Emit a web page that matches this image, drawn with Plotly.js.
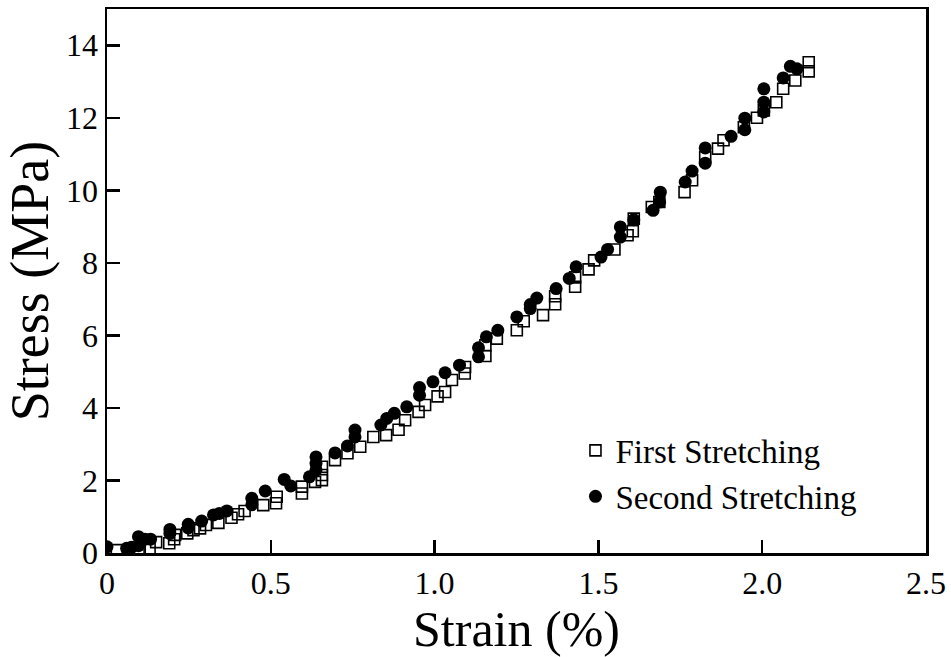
<!DOCTYPE html>
<html>
<head>
<meta charset="utf-8">
<script src="https://cdn.plot.ly/plotly-3.0.1.min.js"></script>
<style>html,body{margin:0;padding:0;background:#fff;}#chart{width:951px;height:657px;}</style>
</head>
<body>
<div id="chart"></div>
<script>
// First stretching (open squares)
const firstStrain = [0.03, 0.10, 0.13, 0.15, 0.19, 0.205, 0.208, 0.245, 0.264, 0.284, 0.302, 0.34, 0.38, 0.40, 0.42, 0.477, 0.516, 0.518, 0.595, 0.595, 0.635, 0.656, 0.656, 0.656, 0.696, 0.734, 0.773, 0.813, 0.852, 0.89, 0.91, 0.951, 0.971, 1.009, 1.032, 1.053, 1.092, 1.093, 1.155, 1.155, 1.19, 1.251, 1.272, 1.331, 1.368, 1.368, 1.429, 1.429, 1.47, 1.487, 1.549, 1.589, 1.605, 1.608, 1.663, 1.686, 1.763, 1.786, 1.826, 1.865, 1.882, 1.944, 1.984, 2.005, 2.043, 2.064, 2.101, 2.142, 2.142];
const firstStress = [0.08, 0.12, 0.13, 0.30, 0.27, 0.38, 0.50, 0.54, 0.63, 0.68, 0.77, 0.83, 0.97, 1.07, 1.16, 1.32, 1.37, 1.55, 1.64, 1.83, 1.96, 2.01, 2.15, 2.38, 2.56, 2.75, 2.93, 3.20, 3.25, 3.40, 3.66, 3.89, 4.08, 4.32, 4.44, 4.77, 4.95, 5.13, 5.43, 5.73, 5.91, 6.14, 6.39, 6.56, 6.86, 7.08, 7.34, 7.60, 7.82, 8.07, 8.37, 8.76, 8.87, 9.22, 9.54, 9.68, 9.95, 10.28, 10.92, 11.15, 11.38, 11.74, 12.00, 12.20, 12.43, 12.80, 13.03, 13.28, 13.53];

// Second stretching (filled circles)
const secondStrain = [0, 0.06, 0.075, 0.096, 0.096, 0.116, 0.133, 0.192, 0.192, 0.248, 0.248, 0.289, 0.325, 0.343, 0.366, 0.442, 0.442, 0.483, 0.541, 0.561, 0.618, 0.638, 0.638, 0.638, 0.696, 0.734, 0.757, 0.757, 0.836, 0.854, 0.877, 0.915, 0.954, 0.954, 0.995, 1.032, 1.076, 1.134, 1.134, 1.158, 1.193, 1.251, 1.292, 1.292, 1.312, 1.371, 1.411, 1.432, 1.508, 1.528, 1.567, 1.567, 1.608, 1.667, 1.687, 1.689, 1.765, 1.786, 1.826, 1.826, 1.905, 1.947, 1.947, 2.005, 2.005, 2.005, 2.064, 2.086, 2.106];
const secondStress = [0.17, 0.13, 0.16, 0.45, 0.20, 0.38, 0.38, 0.65, 0.54, 0.79, 0.69, 0.88, 1.05, 1.09, 1.16, 1.51, 1.33, 1.71, 2.03, 1.85, 2.10, 2.29, 2.47, 2.65, 2.76, 2.95, 3.20, 3.39, 3.53, 3.71, 3.85, 4.03, 4.35, 4.56, 4.72, 4.97, 5.18, 5.41, 5.66, 5.96, 6.14, 6.51, 6.74, 6.85, 7.03, 7.29, 7.57, 7.89, 8.16, 8.37, 8.71, 8.99, 9.19, 9.45, 9.68, 9.95, 10.23, 10.53, 10.75, 11.17, 11.49, 11.67, 11.99, 12.16, 12.43, 12.80, 13.10, 13.42, 13.35];

const xTickVals = [0, 0.5, 1.0, 1.5, 2.0, 2.5];
const xTickText = ["0", "0.5", "1.0", "1.5", "2.0", "2.5"];
const yTickVals = [0, 2, 4, 6, 8, 10, 12, 14];
const yTickText = ["0", "2", "4", "6", "8", "10", "12", "14"];

const serif = "Liberation Serif";

const traces = [
  {
    x: firstStrain, y: firstStress, type: "scatter", mode: "markers",
    name: "First Stretching",
    marker: {symbol: "square-open", size: 11, color: "#000", line: {width: 1.6, color: "#000"}}
  },
  {
    x: secondStrain, y: secondStress, type: "scatter", mode: "markers",
    name: "Second Stretching",
    marker: {symbol: "circle", size: 13, color: "#000"}
  }
];

const axisCommon = {
  showgrid: false, zeroline: false,
  showline: true, mirror: true, linecolor: "#000", linewidth: 2.5,
  ticks: "inside", ticklen: 13, tickwidth: 2.5, tickcolor: "#000",
  tickfont: {family: serif, size: 32, color: "#000"}
};

const layout = {
  width: 951, height: 657,
  margin: {l: 107, r: 25, t: 9, b: 104},
  paper_bgcolor: "#fff", plot_bgcolor: "#fff",
  showlegend: true,
  legend: {
    x: 0.572, y: 0.24, xanchor: "left", yanchor: "top",
    bgcolor: "rgba(0,0,0,0)", borderwidth: 0,
    font: {family: serif, size: 33, color: "#000"},
    tracegroupgap: 0
  },
  xaxis: Object.assign({}, axisCommon, {
    range: [0, 2.5], tickvals: xTickVals, ticktext: xTickText,
    title: {text: "Strain (%)", font: {family: serif, size: 50, color: "#000"}, standoff: 4}
  }),
  yaxis: Object.assign({}, axisCommon, {
    range: [0, 15], tickvals: yTickVals, ticktext: yTickText,
    title: {text: "Stress (MPa)", font: {family: serif, size: 54, color: "#000"}, standoff: 4}
  })
};

Plotly.newPlot("chart", traces, layout, {displayModeBar: false, staticPlot: true});
</script>
</body>
</html>
